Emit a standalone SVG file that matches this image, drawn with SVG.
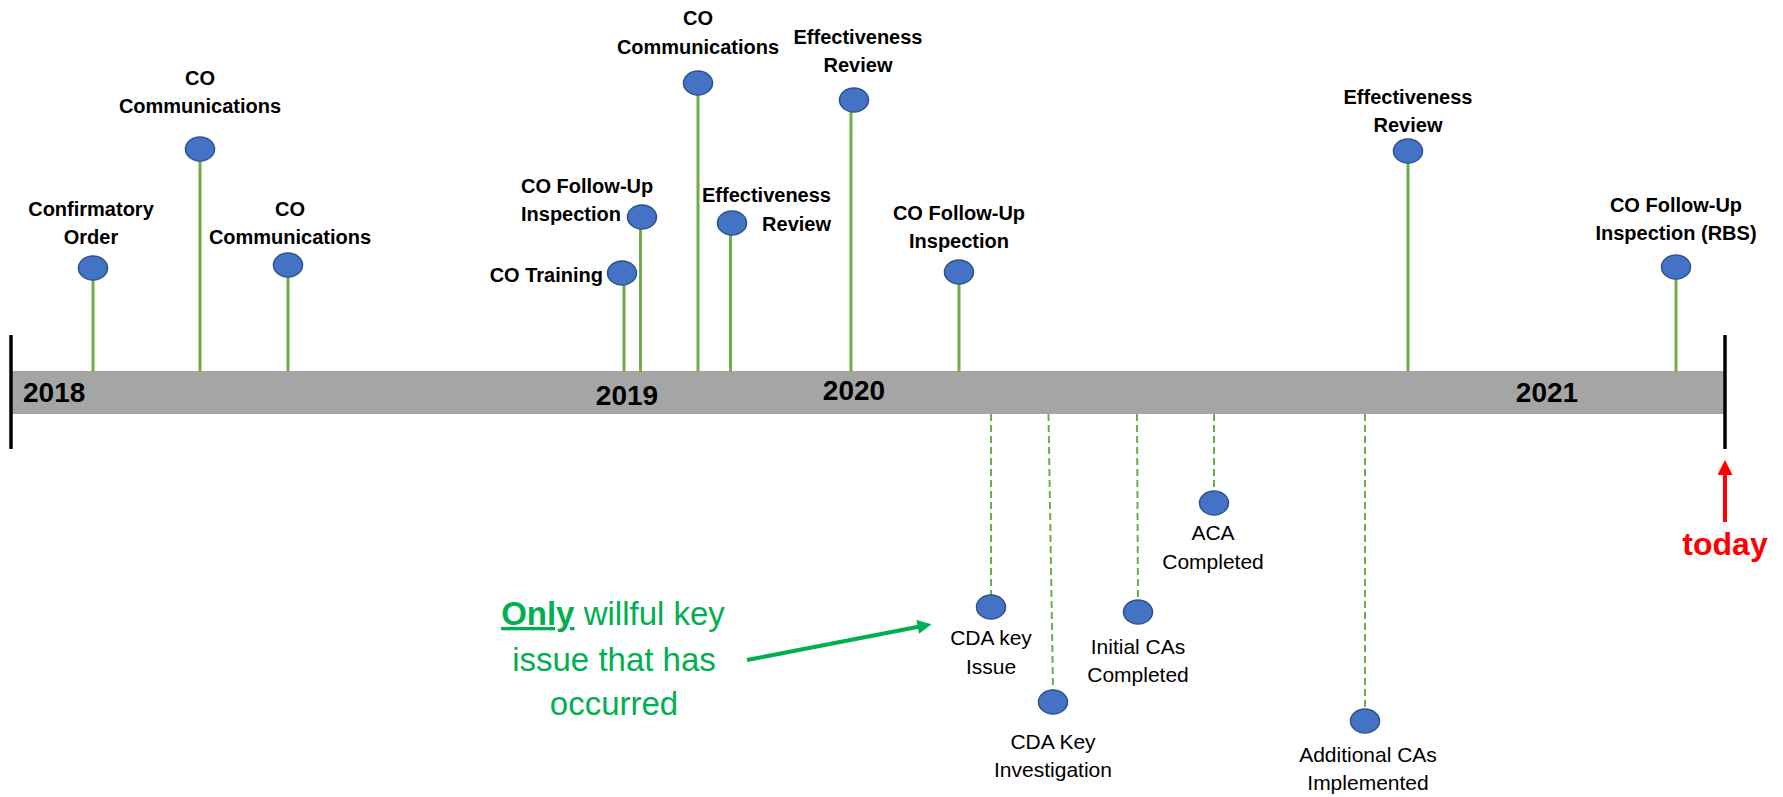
<svg xmlns="http://www.w3.org/2000/svg" width="1783" height="797" viewBox="0 0 1783 797">
<style>
.lbl{font-family:"Liberation Sans",Arial,sans-serif;font-weight:bold;font-size:20px;fill:#000}
.sub{font-family:"Liberation Sans",Arial,sans-serif;font-size:21px;fill:#000}
.yr{font-family:"Liberation Sans",Arial,sans-serif;font-weight:bold;font-size:28px;fill:#000}
.mid{text-anchor:middle}
.dot{fill:#4472C4;stroke:#2F528F;stroke-width:1.5}
.stem{stroke:#70AD47;stroke-width:3;fill:none}
.dash{stroke:#70AD47;stroke-width:2;stroke-dasharray:7 4;fill:none}
.note{font-family:"Liberation Sans",Arial,sans-serif;font-size:33px;fill:#00B050}
</style>
<defs>
<marker id="ag" viewBox="0 0 10 10" refX="2.5" refY="5" markerWidth="16" markerHeight="14" markerUnits="userSpaceOnUse" orient="auto"><path d="M0,0 L10,5 L0,10 z" fill="#00B050"/></marker>
<marker id="ar" viewBox="0 0 10 10" refX="3.3" refY="5" markerWidth="15" markerHeight="15" markerUnits="userSpaceOnUse" orient="auto"><path d="M0,0 L10,5 L0,10 z" fill="#FF0000"/></marker>
</defs>
<rect width="1783" height="797" fill="#fff"/>

<g id="timeline">
<rect x="11" y="371" width="1714" height="43" fill="#A5A5A5"/>
<line x1="11" y1="335" x2="11" y2="449" stroke="#000" stroke-width="3.5"/>
<line x1="1725" y1="335" x2="1725" y2="449" stroke="#000" stroke-width="3.5"/>
<text class="yr" x="23" y="402">2018</text>
<text class="yr mid" x="627" y="404.5">2019</text>
<text class="yr mid" x="854" y="400">2020</text>
<text class="yr mid" x="1547" y="402">2021</text>
</g>

<g id="connectors">
<line class="stem" x1="93" y1="280" x2="93" y2="372"/>
<line class="stem" x1="200" y1="161" x2="200" y2="372"/>
<line class="stem" x1="288" y1="277" x2="288" y2="372"/>
<line class="stem" x1="624" y1="285" x2="624" y2="372"/>
<line class="stem" x1="640.5" y1="229" x2="640.5" y2="372"/>
<line class="stem" x1="698" y1="95" x2="698" y2="372"/>
<line class="stem" x1="730.5" y1="235" x2="730.5" y2="372"/>
<line class="stem" x1="851" y1="112" x2="851" y2="372"/>
<line class="stem" x1="959" y1="284" x2="959" y2="372"/>
<line class="stem" x1="1408" y1="163" x2="1408" y2="372"/>
<line class="stem" x1="1676" y1="279" x2="1676" y2="372"/>
<line class="dash" x1="991" y1="414" x2="991" y2="595"/>
<line class="dash" x1="1048.5" y1="414" x2="1053" y2="690"/>
<line class="dash" x1="1137" y1="414" x2="1138" y2="600"/>
<line class="dash" x1="1214" y1="414" x2="1214" y2="491"/>
<line class="dash" x1="1365" y1="414" x2="1365" y2="709"/>
<line x1="747" y1="660" x2="921.2" y2="626.3" stroke="#00B050" stroke-width="4" marker-end="url(#ag)"/>
<line x1="1725" y1="522" x2="1725" y2="470" stroke="#FF0000" stroke-width="4" marker-end="url(#ar)"/>
</g>

<g id="n-confirmatory-order">
<ellipse class="dot" cx="93" cy="268" rx="14.5" ry="12"/>
<text class="lbl mid" x="91" y="215.5">Confirmatory</text>
<text class="lbl mid" x="91" y="244">Order</text>
</g>
<g id="n-co-comm-1">
<ellipse class="dot" cx="200" cy="149" rx="14.5" ry="12"/>
<text class="lbl mid" x="200" y="85">CO</text>
<text class="lbl mid" x="200" y="113">Communications</text>
</g>
<g id="n-co-comm-2">
<ellipse class="dot" cx="288" cy="265" rx="14.5" ry="12"/>
<text class="lbl mid" x="290" y="215.5">CO</text>
<text class="lbl mid" x="290" y="244">Communications</text>
</g>
<g id="n-co-training">
<ellipse class="dot" cx="622" cy="273" rx="14.5" ry="12"/>
<text class="lbl" x="603" y="282" text-anchor="end">CO Training</text>
</g>
<g id="n-co-followup-1">
<ellipse class="dot" cx="642" cy="217" rx="14.5" ry="12"/>
<text class="lbl" x="521" y="192.5">CO Follow-Up</text>
<text class="lbl" x="521" y="221">Inspection</text>
</g>
<g id="n-co-comm-3">
<ellipse class="dot" cx="698" cy="83" rx="14.5" ry="12"/>
<text class="lbl mid" x="698" y="25">CO</text>
<text class="lbl mid" x="698" y="53.5">Communications</text>
</g>
<g id="n-effectiveness-1">
<ellipse class="dot" cx="732" cy="223" rx="14.5" ry="12"/>
<text class="lbl" x="831" y="201.5" text-anchor="end">Effectiveness</text>
<text class="lbl" x="831" y="230.5" text-anchor="end">Review</text>
</g>
<g id="n-effectiveness-2">
<ellipse class="dot" cx="854" cy="100" rx="14.5" ry="12"/>
<text class="lbl mid" x="858" y="43.5">Effectiveness</text>
<text class="lbl mid" x="858" y="71.5">Review</text>
</g>
<g id="n-co-followup-2">
<ellipse class="dot" cx="959" cy="272" rx="14.5" ry="12"/>
<text class="lbl mid" x="959" y="219.5">CO Follow-Up</text>
<text class="lbl mid" x="959" y="248">Inspection</text>
</g>
<g id="n-effectiveness-3">
<ellipse class="dot" cx="1408" cy="151" rx="14.5" ry="12"/>
<text class="lbl mid" x="1408" y="103.5">Effectiveness</text>
<text class="lbl mid" x="1408" y="131.5">Review</text>
</g>
<g id="n-co-followup-rbs">
<ellipse class="dot" cx="1676" cy="267" rx="14.5" ry="12"/>
<text class="lbl mid" x="1676" y="211.5">CO Follow-Up</text>
<text class="lbl mid" x="1676" y="240">Inspection (RBS)</text>
</g>

<g id="n-cda-key-issue">
<ellipse class="dot" cx="991" cy="607" rx="14.5" ry="12"/>
<text class="sub mid" x="991" y="645">CDA key</text>
<text class="sub mid" x="991" y="673.5">Issue</text>
</g>
<g id="n-cda-key-investigation">
<ellipse class="dot" cx="1053" cy="702" rx="14.5" ry="12"/>
<text class="sub mid" x="1053" y="748.5">CDA Key</text>
<text class="sub mid" x="1053" y="777">Investigation</text>
</g>
<g id="n-initial-cas">
<ellipse class="dot" cx="1138" cy="612" rx="14.5" ry="12"/>
<text class="sub mid" x="1138" y="653.5">Initial CAs</text>
<text class="sub mid" x="1138" y="682">Completed</text>
</g>
<g id="n-aca">
<ellipse class="dot" cx="1214" cy="503" rx="14.5" ry="12"/>
<text class="sub mid" x="1213" y="539.5">ACA</text>
<text class="sub mid" x="1213" y="568.5">Completed</text>
</g>
<g id="n-additional-cas">
<ellipse class="dot" cx="1365" cy="721" rx="14.5" ry="12"/>
<text class="sub mid" x="1368" y="762">Additional CAs</text>
<text class="sub mid" x="1368" y="790">Implemented</text>
</g>

<g id="n-note">
<text class="note mid" x="613" y="625"><tspan font-weight="bold" text-decoration="underline">Only</tspan> willful key</text>
<text class="note mid" x="614" y="670.5">issue that has</text>
<text class="note mid" x="614" y="715">occurred</text>
</g>

<g id="n-today">
<text x="1725" y="555" text-anchor="middle" font-family="Liberation Sans, Arial, sans-serif" font-weight="bold" font-size="32px" fill="#FF0000">today</text>
</g>
</svg>
